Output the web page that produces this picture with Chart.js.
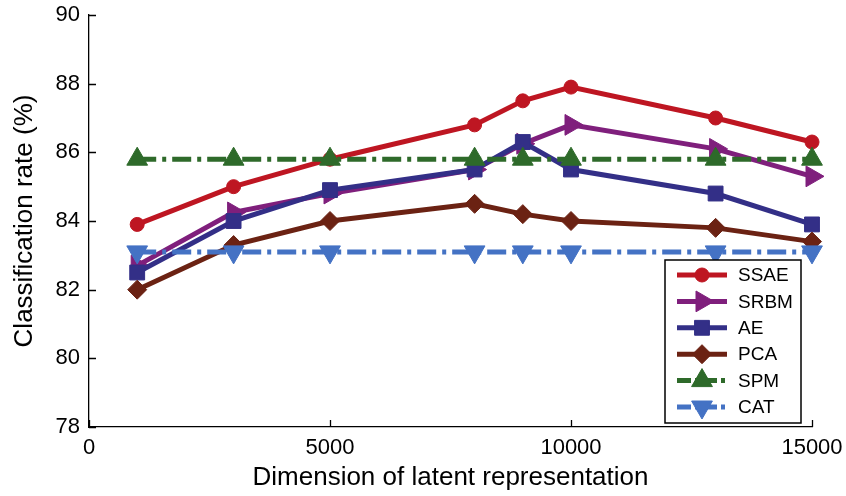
<!DOCTYPE html>
<html>
<head>
<meta charset="utf-8">
<script src="https://cdn.jsdelivr.net/npm/chart.js@4/dist/chart.umd.min.js"></script>
<style>
  html, body { margin: 0; padding: 0; background: #fff; }
  #wrap { width: 846px; height: 496px; }
</style>
</head>
<body>
<div id="wrap"><canvas id="chart" width="846" height="496"></canvas></div>
<script>
// dimension of latent representation
const dims = [1000, 3000, 5000, 8000, 9000, 10000, 13000, 15000];

// classification rate (%) per method
const ssae = [83.9, 85.0, 85.8, 86.8, 87.5, 87.9, 87.0, 86.3];
const srbm = [82.7, 84.25, 84.8, 85.5, 86.25, 86.8, 86.1, 85.3];
const ae   = [82.5, 84.0, 84.9, 85.5, 86.3, 85.5, 84.8, 83.9];
const pca  = [82.0, 83.3, 84.0, 84.5, 84.2, 84.0, 83.8, 83.4];
const spm  = [85.8, 85.8, 85.8, 85.8, 85.8, 85.8, 85.8, 85.8];
const cat  = [83.1, 83.1, 83.1, 83.1, 83.1, 83.1, 83.1, 83.1];

const xTicks = [0, 5000, 10000, 15000];
const yTicks = [78, 80, 82, 84, 86, 88, 90];

const FONT = "'Liberation Sans', Arial, Helvetica, sans-serif";
const dashDot = [19, 6, 4, 6];

function series(label, values, color, style, radius, rotation, dash, order) {
    return {
        label,
        data: values.map((v, i) => ({ x: dims[i], y: v })),
        borderColor: color,
        backgroundColor: color,
        borderWidth: 5,
        borderDash: dash || [],
        pointStyle: style,
        pointRadius: radius,
        pointHoverRadius: radius,
        pointRotation: rotation,
        pointBorderWidth: 1,
        pointBorderColor: color,
        pointBackgroundColor: color,
        tension: 0,
        clip: false,
        order,
    };
}

const datasets = [
    series('SSAE', ssae, '#BE1622', 'circle', 7, 0, null, 6),
    series('SRBM', srbm, '#7F1F7C', 'triangle', 12, 90, null, 5),
    series('AE', ae, '#332F87', 'rect', 10.5, 0, null, 4),
    series('PCA', pca, '#6B2213', 'rectRot', 9.5, 0, null, 3),
    series('SPM', spm, '#2E6A2A', 'triangle', 12, 0, dashDot, 2),
    series('CAT', cat, '#4472C4', 'triangle', 12, 180, dashDot, 1),
];

// inward tick marks, like the original figure
const innerTicks = {
    id: 'innerTicks',
    afterDraw(chart) {
        const { ctx, chartArea, scales } = chart;
        ctx.save();
        ctx.strokeStyle = '#000';
        ctx.lineWidth = 1.3;
        ctx.beginPath();
        yTicks.forEach(v => {
            const y = Math.round(scales.y.getPixelForValue(v)) + 0.5;
            ctx.moveTo(chartArea.left, y);
            ctx.lineTo(chartArea.left + 7, y);
        });
        xTicks.forEach(v => {
            const x = Math.round(scales.x.getPixelForValue(v)) + 0.5;
            ctx.moveTo(x, chartArea.bottom);
            ctx.lineTo(x, chartArea.bottom - 7);
        });
        ctx.stroke();
        ctx.restore();
    }
};

// legend box inside the plot, bottom right
const boxLegend = {
    id: 'boxLegend',
    afterDraw(chart) {
        const { ctx, chartArea } = chart;
        const w = 136, h = 163;
        const left = chartArea.right - 147;
        const top = chartArea.bottom - 167;
        ctx.save();
        ctx.fillStyle = '#fff';
        ctx.fillRect(left, top, w, h);
        ctx.strokeStyle = '#000';
        ctx.lineWidth = 1.5;
        ctx.strokeRect(left, top, w, h);
        ctx.font = '19px ' + FONT;
        ctx.textBaseline = 'middle';
        ctx.textAlign = 'left';
        chart.data.datasets.forEach((ds, i) => {
            const y = top + 15 + i * 26.4;
            const x1 = left + 12, x2 = left + 62, xm = left + 37;
            ctx.strokeStyle = ds.borderColor;
            ctx.lineWidth = ds.borderWidth;
            ctx.setLineDash(ds.borderDash.length ? [14, 4, 4, 4] : []);
            ctx.beginPath();
            ctx.moveTo(x1, y);
            ctx.lineTo(x2, y);
            ctx.stroke();
            ctx.setLineDash([]);
            ctx.fillStyle = ds.pointBackgroundColor;
            ctx.strokeStyle = ds.pointBorderColor;
            ctx.lineWidth = 1;
            Chart.helpers.drawPoint(ctx, {
                pointStyle: ds.pointStyle,
                radius: ds.pointRadius,
                rotation: ds.pointRotation,
                borderWidth: 1,
            }, xm, y);
            ctx.fillStyle = '#000';
            ctx.fillText(ds.label, left + 73, y + 1);
        });
        ctx.restore();
    }
};

new Chart(document.getElementById('chart'), {
    type: 'line',
    data: { datasets },
    plugins: [innerTicks, boxLegend],
    options: {
        responsive: false,
        animation: false,
        events: [],
        layout: { padding: { left: 0, right: 34, top: 15, bottom: 0 } },
        plugins: {
            legend: { display: false },
            tooltip: { enabled: false },
        },
        scales: {
            x: {
                type: 'linear',
                min: 0,
                max: 15000,
                afterBuildTicks: (scale) => { scale.ticks = xTicks.map(v => ({ value: v })); },
                afterFit: (scale) => {
                    scale.height = 69;
                    scale.paddingLeft = 0;
                    scale.paddingRight = 0;
                },
                grid: { drawOnChartArea: false, drawTicks: false },
                border: { display: true, color: '#000', width: 1.3 },
                ticks: {
                    color: '#000',
                    font: { family: FONT, size: 22 },
                    padding: 8,
                    maxRotation: 0,
                    callback: (v) => String(v),
                },
                title: {
                    display: true,
                    text: 'Dimension of latent representation',
                    color: '#000',
                    font: { family: FONT, size: 26 },
                    padding: { top: 0, bottom: 3 },
                },
            },
            y: {
                min: 78,
                max: 90,
                afterBuildTicks: (scale) => { scale.ticks = yTicks.map(v => ({ value: v })); },
                afterFit: (scale) => {
                    scale.width = 89;
                    scale.paddingTop = 0;
                    scale.paddingBottom = 0;
                },
                grid: { drawOnChartArea: false, drawTicks: false },
                border: { display: true, color: '#000', width: 1.3 },
                ticks: {
                    color: '#000',
                    font: { family: FONT, size: 22 },
                    padding: 9,
                },
                title: {
                    display: true,
                    text: 'Classification rate (%)',
                    color: '#000',
                    font: { family: FONT, size: 26 },
                    padding: { top: 9, bottom: 0 },
                },
            },
        },
    },
});
</script>
</body>
</html>
